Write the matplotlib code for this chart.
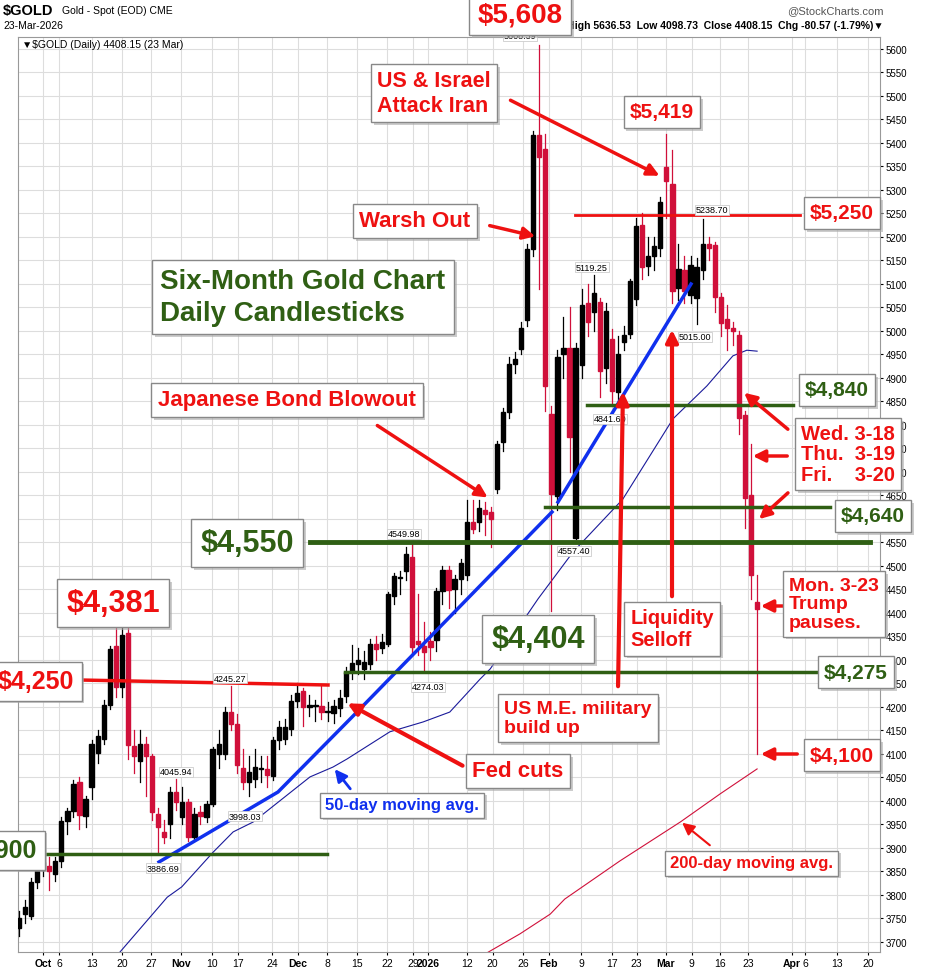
import numpy as np
import matplotlib
matplotlib.use('Agg')
import matplotlib.pyplot as plt
from matplotlib.patches import Rectangle
import matplotlib.patheffects as pe

plt.rcParams['font.family'] = ['Liberation Sans', 'DejaVu Sans']

# ── Daily OHLC, Oct 2025 .. 23 Mar 2026 ──
opens = [3730, 3760, 3755, 3827, 3853, 3862, 3844, 3872, 3957, 3978, 4040, 3968, 4030, 4102, 4131, 4204,
         4330, 4242, 4357, 4117, 4085, 4121, 4095, 3972, 3934, 3950, 4019, 3966, 3998, 3923, 3976, 3966,
         3994, 4100, 4100, 4189, 4164, 4070, 4040, 4046, 4068, 4068, 4053, 4130, 4131, 4153, 4213, 4234,
         4200, 4202, 4202, 4189, 4187, 4198, 4223, 4274, 4291, 4280, 4291, 4334, 4325, 4334, 4436, 4474,
         4489, 4519, 4340, 4330, 4340, 4343, 4446, 4491, 4451, 4472, 4481, 4593, 4593, 4619, 4615, 4664,
         4764, 4828, 4930, 4962, 5023, 5174, 5417, 5387, 4823, 4649, 4951, 4964, 4560, 4928, 5060, 5040,
         5062, 4921, 4983, 4870, 4976, 4994, 5068, 5225, 5138, 5159, 5177, 5349, 5313, 5091, 5130, 5077,
         5070, 5130, 5185, 5183, 5072, 5025, 5006, 4991, 4821, 4650, 4423]
highs = [3765, 3790, 3835, 3880, 3885, 3880, 3880, 3965, 3985, 4045, 4050, 4010, 4130, 4150, 4215, 4330,
         4375, 4381, 4370, 4150, 4150, 4135, 4100, 3985, 3960, 4030, 4046, 4030, 4005, 3985, 3990, 4000,
         4115, 4150, 4200, 4245, 4185, 4110, 4095, 4110, 4095, 4095, 4135, 4170, 4175, 4225, 4250, 4240,
         4225, 4215, 4245, 4210, 4215, 4235, 4285, 4332, 4325, 4320, 4345, 4350, 4355, 4445, 4485, 4490,
         4540, 4550, 4440, 4380, 4360, 4452, 4500, 4500, 4480, 4515, 4640, 4640, 4640, 4635, 4625, 4765,
         4835, 4945, 4955, 5020, 5185, 5425, 5608, 5420, 4840, 4960, 5030, 5050, 4975, 5090, 5100, 5119,
         5070, 5060, 5005, 4990, 5010, 5110, 5240, 5250, 5200, 5200, 5285, 5419, 5385, 5185, 5160, 5160,
         5155, 5239, 5200, 5190, 5080, 5055, 5020, 5000, 4830, 4760, 4480]
lows = [3712, 3740, 3748, 3815, 3840, 3810, 3830, 3860, 3930, 3965, 3940, 3945, 4005, 4080, 4120, 4195,
        4220, 4220, 4090, 4060, 4040, 4010, 3960, 3886, 3910, 3920, 3980, 3950, 3915, 3915, 3950, 3955,
        3990, 4070, 4090, 4150, 4060, 4025, 4010, 4030, 4040, 4030, 4045, 4110, 4120, 4140, 4200, 4160,
        4180, 4170, 4175, 4170, 4165, 4180, 4210, 4260, 4270, 4260, 4280, 4300, 4315, 4330, 4420, 4440,
        4470, 4310, 4310, 4274, 4300, 4320, 4420, 4410, 4400, 4440, 4470, 4570, 4575, 4565, 4540, 4655,
        4745, 4815, 4910, 4950, 5010, 5160, 5090, 4830, 4404, 4620, 4900, 4700, 4557, 4900, 4990, 5000,
        4860, 4890, 4842, 4842, 4960, 4985, 5055, 5110, 5120, 5130, 5160, 5240, 5060, 5065, 5060, 5060,
        5015, 5110, 5150, 5040, 4990, 4960, 4970, 4780, 4580, 4430, 4099]
closes = [3750, 3775, 3827, 3853, 3870, 3850, 3872, 3957, 3978, 4036, 3970, 4004, 4121, 4138, 4204, 4323,
          4242, 4353, 4119, 4095, 4121, 4095, 3976, 3944, 3923, 4019, 3998, 3998, 3923, 3972, 3968, 3994,
          4110, 4121, 4189, 4164, 4076, 4040, 4061, 4072, 4070, 4055, 4130, 4157, 4157, 4213, 4230, 4200,
          4201, 4203, 4190, 4189, 4202, 4219, 4274, 4293, 4300, 4295, 4334, 4323, 4338, 4440, 4478, 4476,
          4525, 4328, 4334, 4317, 4327, 4446, 4491, 4449, 4472, 4506, 4594, 4578, 4623, 4611, 4600, 4759,
          4828, 4930, 4940, 5006, 5174, 5417, 5370, 4883, 4653, 4945, 4964, 4775, 4964, 5055, 5019, 5081,
          4915, 5043, 4872, 4951, 4991, 5106, 5223, 5136, 5159, 5181, 5274, 5319, 5085, 5132, 5085, 5140,
          5136, 5185, 5177, 5072, 5017, 5006, 5000, 4815, 4645, 4480, 4408]

# moving averages, sparse points (day index, price)
ma50_idx = [16.4, 24.5, 26.9, 32.1, 35.4, 38.7, 48.1, 51.9, 54.2, 61.3, 66.8, 71.2, 76.2, 77.9,
            85.8, 91.6, 99.8, 108.1, 113.7, 118.0, 120.3, 122.0]
ma50_val = [3674, 3795, 3817, 3891, 3934, 3955, 4051, 4072, 4089, 4147, 4168, 4189, 4259, 4281,
            4430, 4530, 4642, 4813, 4883, 4947, 4959, 4957]
ma200_idx = [77.0, 82.8, 87.8, 90.2, 99.3, 109.3, 115.9, 122.0]
ma200_val = [3674, 3717, 3759, 3791, 3872, 3955, 4015, 4068]

tick_pos = [4.0, 6.6, 12.1, 17.0, 21.8, 26.8, 31.9, 36.2, 41.8, 46.1, 50.9, 55.9, 60.8, 65.1, 67.6,
            74.0, 78.3, 83.3, 87.6, 92.9, 98.0, 102.1, 106.9, 111.2, 115.9, 120.5, 127.8, 129.9, 135.2, 140.3]
tick_lab = ['Oct', '6', '13', '20', '27', 'Nov', '10', '17', '24', 'Dec', '8', '15', '22', '29', '2026',
            '12', '20', '26', 'Feb', '9', '17', '23', 'Mar', '9', '16', '23', 'Apr', '6', '13', '20']
bold_ticks = {'Oct', 'Nov', 'Dec', '2026', 'Feb', 'Mar', 'Apr'}

UP = 'black'
DOWN = '#d0103a'
RED = '#ee1111'
GREEN = '#2f5f14'

fig = plt.figure(figsize=(9.28, 9.70), dpi=100)
ax = fig.add_axes([18 / 928, 1 - 953 / 970, 862 / 928, 915 / 970])
ax.set_zorder(5)  # so the big callouts sit over the header text


# pixel -> data helpers for placing annotations
def X(px):
    return (px - 19) / 6.05


def Y(py):
    return 5600 - (py - 50) * 2.128


ax.set_xlim(X(18), X(880))
ax.set_ylim(Y(953), Y(38))
ax.set_yticks(np.arange(3700, 5601, 50))
ax.yaxis.tick_right()
ax.tick_params(axis='y', labelsize=7, length=2, pad=2)
ax.set_xticks(tick_pos)
ax.set_xticklabels(tick_lab)
ax.tick_params(axis='x', labelsize=7.5, length=2, pad=2)
for t in ax.get_xticklabels():
    if t.get_text() in bold_ticks:
        t.set_fontweight('bold')
ax.grid(True, color='#dddddd', lw=0.8)
for s in ax.spines.values():
    s.set_color('#999999')
    s.set_linewidth(0.8)

# candles
for i, (o, h, l, c) in enumerate(zip(opens, highs, lows, closes)):
    col = UP if c >= o else DOWN
    ax.plot([i, i], [l, h], color=col, lw=0.9, zorder=3)
    lo, hi = min(o, c), max(o, c)
    ax.add_patch(Rectangle((i - 0.35, lo), 0.7, max(hi - lo, 3), color=col, zorder=4))

ax.plot(ma50_idx, ma50_val, color='#1a1a9a', lw=0.8, zorder=2)
ax.plot(ma200_idx, ma200_val, color='#d0103a', lw=0.8, zorder=2)

# trend lines and levels
ax.plot([X(159), X(278), X(358), X(552)], [Y(863), Y(793), Y(712), Y(513)], color='#1030ee', lw=2.5, zorder=5)
ax.plot([X(558), X(691)], [Y(503), Y(285)], color='#1030ee', lw=2.5, zorder=5)
ax.plot([X(80), X(328)], [Y(681), Y(686)], color=RED, lw=2.5, zorder=5)
ax.plot([X(43), X(327)], [Y(855), Y(855)], color=GREEN, lw=2.5, zorder=5)
ax.plot([X(345), X(880)], [4274, 4274], color=GREEN, lw=2.5, zorder=5)
ax.plot([X(310), X(870)], [4550, 4550], color=GREEN, lw=3.5, zorder=5)
ax.plot([X(545), X(830)], [Y(508), Y(508)], color=GREEN, lw=2.5, zorder=5)
ax.plot([X(587), X(793)], [Y(406), Y(406)], color=GREEN, lw=2.5, zorder=5)
ax.plot([X(575), X(800)], [Y(216), Y(216)], color=RED, lw=2.0, zorder=5)

shadow = [pe.withSimplePatchShadow(offset=(2, -2), shadow_rgbFace='#aaaaaa', alpha=0.6)]


def box(px, py, text, color, size, ha='center', ls=1.0, ma='left'):
    t = ax.text(X(px), Y(py), text, color=color, fontsize=size, fontweight='bold', ha=ha, va='center',
                linespacing=ls, multialignment=ma, zorder=10, clip_on=False,
                bbox=dict(boxstyle='square,pad=0.3', fc='white', ec='#888888', lw=1))
    t.get_bbox_patch().set_path_effects(shadow)
    return t


def arrow(x0, y0, x1, y1, color=RED, lw=2.5):
    ax.annotate('', xy=(X(x1), Y(y1)), xytext=(X(x0), Y(y0)), zorder=9,
                arrowprops=dict(arrowstyle='-|>', color=color, lw=lw, mutation_scale=18))


def small(px, py, text):
    ax.text(X(px), Y(py), text, fontsize=6.5, ha='center', va='center', zorder=8,
            bbox=dict(boxstyle='square,pad=0.1', fc='white', ec='#cccccc', lw=0.6))


for px, py, t in [(520, 37, '5608.39'), (712, 211, '5238.70'), (592, 268, '5119.25'), (695, 338, '5015.00'),
                  (610, 420, '4841.60'), (404, 535, '4549.98'), (574, 552, '4557.40'), (428, 688, '4274.03'),
                  (230, 679, '4245.27'), (176, 773, '4045.94'), (245, 817, '3998.03'), (163, 869, '3886.69')]:
    small(px, py, t)

arrow(508, 100, 662, 178)
arrow(487, 226, 538, 238)
arrow(375, 425, 490, 500)
arrow(790, 432, 742, 392)
arrow(790, 457, 750, 457)
arrow(790, 492, 757, 522)
arrow(797, 607, 758, 607)
arrow(672, 600, 672, 328, lw=3)
arrow(618, 690, 623, 390, lw=3)
arrow(465, 768, 345, 703, lw=3)
arrow(800, 755, 758, 755)
arrow(352, 792, 333, 768, color='#1030ee', lw=2)
arrow(712, 848, 680, 822, lw=1.5)

box(520, 15, '$5,608', RED, 20)
box(434, 94, 'US & Israel\nAttack Iran', RED, 15.5, ls=1.2)
box(662, 113, '$5,419', RED, 15)
box(842, 214, '$5,250', RED, 15)
box(415, 222, 'Warsh Out', RED, 16)
box(303, 298, 'Six-Month Gold Chart\nDaily Candlesticks', GREEN, 20, ls=1.3)
box(287, 401, 'Japanese Bond Blowout', RED, 16)
box(837, 391, '$4,840', GREEN, 15)
box(848, 455, 'Wed. 3-18\nThu.  3-19\nFri.    3-20', RED, 14.5, ls=1.1)
box(873, 517, '$4,640', GREEN, 15)
box(247, 544, '$4,550', GREEN, 22)
box(113, 604, '$4,381', RED, 22)
box(538, 640, '$4,404', GREEN, 22)
box(834, 605, 'Mon. 3-23\nTrump\npauses.', RED, 14, ls=1.1)
box(672, 630, 'Liquidity\nSelloff', RED, 14.5, ls=1.2)
box(74, 682, '$4,250', RED, 18, ha='right')
box(856, 673, '$4,275', GREEN, 15)
box(578, 719, 'US M.E. military\nbuild up', RED, 14, ls=1.2)
box(518, 772, 'Fed cuts', RED, 16)
box(842, 756, '$4,100', RED, 15)
box(402, 806, '50-day moving avg.', '#1030ee', 12)
box(752, 864, '200-day moving avg.', RED, 12)
box(37, 851, '$3,900', GREEN, 18, ha='right')

# header
fig.text(3 / 928, 1 - 11 / 970, '$GOLD', fontsize=10.5, fontweight='bold', va='center')
fig.text(62 / 928, 1 - 11 / 970, 'Gold - Spot (EOD) CME', fontsize=7.5, va='center')
fig.text(3 / 928, 1 - 26 / 970, '23-Mar-2026', fontsize=7.5, va='center')
fig.text(884 / 928, 1 - 11 / 970, '@StockCharts.com', fontsize=8, va='center', ha='right', color='#555555')
fig.text(884 / 928, 1 - 26 / 970, 'O 5400.00  High 5636.53  Low 4098.73  Close 4408.15  Chg -80.57 (-1.79%)\u25BC',
         fontsize=7.5, va='center', ha='right', fontweight='bold')
ax.text(X(22), Y(45), '\u25BC$GOLD (Daily) 4408.15 (23 Mar)', fontsize=7.5, va='center', zorder=6)

fig.savefig('out.png', dpi=100)
